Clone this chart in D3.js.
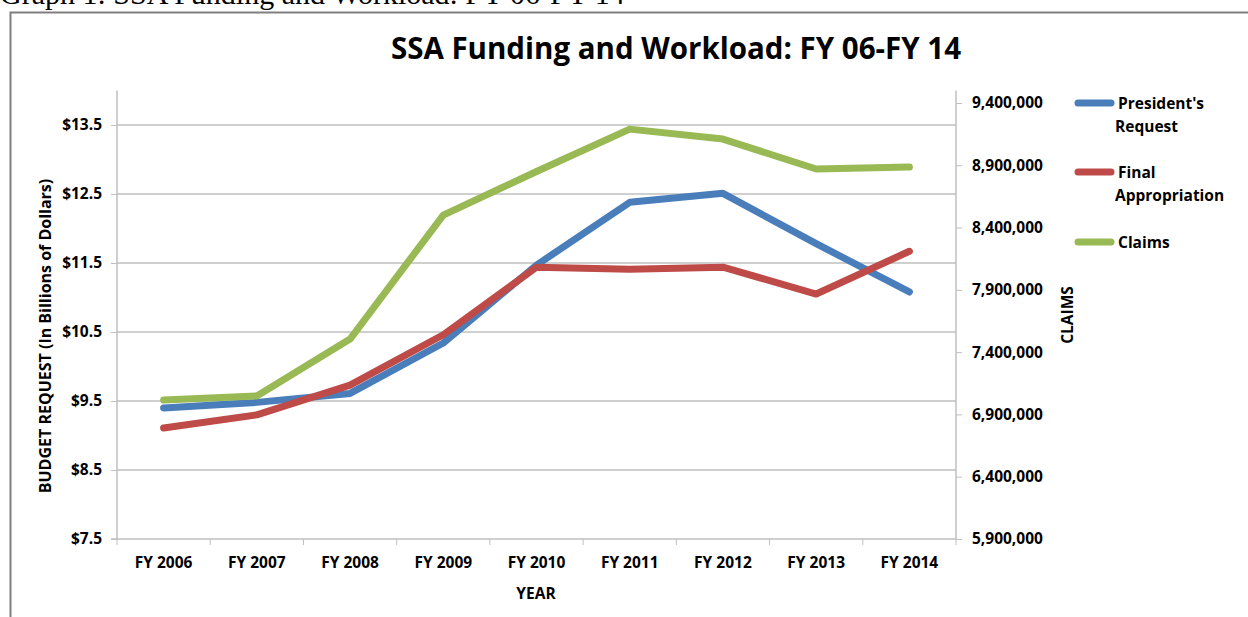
<!DOCTYPE html>
<html><head><meta charset="utf-8">
<script src="https://cdn.jsdelivr.net/npm/d3@7"></script>
<style>body{margin:0;background:#fff;overflow:hidden}svg{display:block}</style>
</head><body>
<svg id="c" width="1248" height="617"></svg>
<script>
const years = ["FY 2006","FY 2007","FY 2008","FY 2009","FY 2010","FY 2011","FY 2012","FY 2013","FY 2014"];
const presidentsRequest = [9.40, 9.48, 9.61, 10.34, 11.47, 12.38, 12.51, 11.78, 11.08];
const finalAppropriation = [9.11, 9.30, 9.73, 10.46, 11.44, 11.41, 11.44, 11.05, 11.67];
const claims = [7015000, 7048000, 7505000, 8500000, 8850000, 9190000, 9110000, 8870000, 8885000];
const leftTicks = [7.5, 8.5, 9.5, 10.5, 11.5, 12.5, 13.5];
const rightTicks = [5900000, 6400000, 6900000, 7400000, 7900000, 8400000, 8900000, 9400000];
const seriesNames = ["President's Request", "Final Appropriation", "Claims"];
const colors = ["#4a7ebb", "#be4b48", "#98b954"];

const svg = d3.select("#c");
const F = "'Open Sans', Lato, sans-serif";
const L = 117, R = 956, T = 90.5, B = 539;

// caption
svg.append("text").attr("x", 0).attr("y", 4).attr("font-family", "'Liberation Serif', 'Times New Roman', serif")
  .attr("font-size", 30).attr("fill", "#000").text("Graph 1: SSA Funding and Workload: FY 06-FY 14");
// frame
svg.append("path").attr("d", "M10.5,617 V12.5 H1248").attr("fill", "none").attr("stroke", "#7f7f7f").attr("stroke-width", 2);

const x = d3.scaleBand().domain(years).range([L, R]).padding(0);
const yL = d3.scaleLinear().domain([7.5, 14]).range([B, T]);
const yR = d3.scaleLinear().domain([5900000, 9500000]).range([B, T]);

// gridlines
svg.append("g").selectAll("line").data(leftTicks.slice(1)).join("line")
  .attr("x1", L).attr("x2", R).attr("y1", d => yL(d)).attr("y2", d => yL(d))
  .attr("stroke", "#bfbfbf").attr("stroke-width", 1.5);

// left axis
const gl = svg.append("g").attr("transform", `translate(${L},0)`)
  .call(d3.axisLeft(yL).tickValues(leftTicks).tickSize(6).tickPadding(9).tickFormat(d => "$" + d3.format(".1f")(d)));
// right axis
const gr = svg.append("g").attr("transform", `translate(${R},0)`)
  .call(d3.axisRight(yR).tickValues(rightTicks).tickSize(6).tickPadding(10).tickFormat(d3.format(",")));
// bottom axis
const gb = svg.append("g").attr("transform", `translate(0,${B})`)
  .call(d3.axisBottom(x).tickSize(0).tickPadding(18));
gb.selectAll(".tick").append("line").attr("x1", x.bandwidth()/2).attr("x2", x.bandwidth()/2).attr("y1", 0).attr("y2", 6).attr("stroke", "#bfbfbf");
gb.append("line").attr("x1", L).attr("x2", L).attr("y1", 0).attr("y2", 6).attr("stroke", "#bfbfbf");

[gl, gr, gb].forEach(g => {
  g.select(".domain").attr("stroke", "#bfbfbf").attr("stroke-width", 1.5);
  g.selectAll(".tick line").attr("stroke", "#bfbfbf");
  g.selectAll("text").attr("font-family", F).attr("font-weight", "bold").attr("font-size", 15.5).attr("fill", "#000");
});
gl.select(".domain").attr("d", `M0,${T}V${B}`);
gr.select(".domain").attr("d", `M0,${T}V${B}`);
gb.select(".domain").attr("d", `M${L-6},0H${R}`);

// lines
const cx = d => x(d) + x.bandwidth()/2;
const lineL = d3.line().x((d, i) => cx(years[i])).y(d => yL(d));
const lineR = d3.line().x((d, i) => cx(years[i])).y(d => yR(d));
[[presidentsRequest, lineL, 0], [finalAppropriation, lineL, 1], [claims, lineR, 2]].forEach(([data, ln, k]) => {
  svg.append("path").datum(data).attr("d", ln).attr("fill", "none").attr("stroke", colors[k])
    .attr("stroke-width", 7).attr("stroke-linejoin", "round").attr("stroke-linecap", "round");
});

// title
svg.append("text").attr("x", 676).attr("y", 59).attr("text-anchor", "middle").attr("font-family", F)
  .attr("font-weight", "bold").attr("font-size", 29.5).attr("fill", "#000").text("SSA Funding and Workload: FY 06-FY 14");

// axis titles
svg.append("text").attr("transform", "translate(51,336) rotate(-90)").attr("text-anchor", "middle")
  .attr("font-family", F).attr("font-weight", "bold").attr("font-size", 16).text("BUDGET REQUEST (In Billions of Dollars)");
svg.append("text").attr("transform", "translate(1073,315) rotate(-90)").attr("text-anchor", "middle")
  .attr("font-family", F).attr("font-weight", "bold").attr("font-size", 15.5).text("CLAIMS");
svg.append("text").attr("x", 536).attr("y", 599).attr("text-anchor", "middle")
  .attr("font-family", F).attr("font-weight", "bold").attr("font-size", 15.5).text("YEAR");

// legend
const legY = [103, 172, 242];
const legLines = [["President's", "Request"], ["Final", "Appropriation"], ["Claims"]];
legLines.forEach((lines, k) => {
  svg.append("line").attr("x1", 1078).attr("x2", 1111).attr("y1", legY[k]).attr("y2", legY[k])
    .attr("stroke", colors[k]).attr("stroke-width", 7).attr("stroke-linecap", "round");
  lines.forEach((t, j) => {
    svg.append("text").attr("x", j === 0 ? 1118 : 1115).attr("y", legY[k] + 6 + j * 23)
      .attr("font-family", F).attr("font-weight", "bold").attr("font-size", 15.5).text(t);
  });
});
</script>
</body></html>
